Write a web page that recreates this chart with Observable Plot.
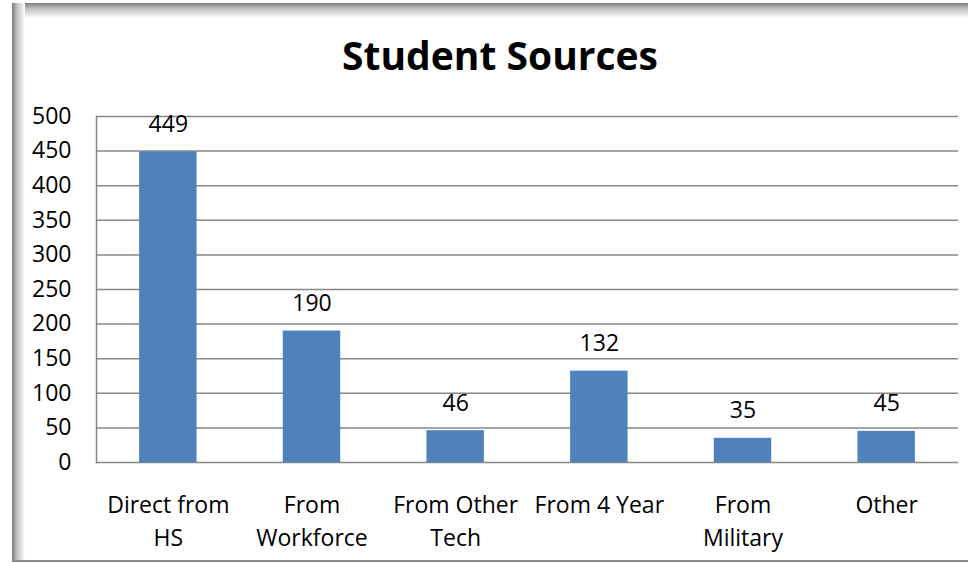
<!DOCTYPE html>
<html>
<head>
<meta charset="utf-8">
<script src="https://cdn.jsdelivr.net/npm/d3@7"></script>
<script src="https://cdn.jsdelivr.net/npm/@observablehq/plot@0.6"></script>
<style>
  html, body { margin: 0; padding: 0; background: #fff; }
  #wrap { position: relative; width: 968px; height: 563px; overflow: hidden; background: #fff; }
  #shadowTop { position: absolute; left: 12px; top: 3px; width: 960px; height: 15px;
    background: linear-gradient(to bottom, #7a7a7a 0%, #bdbdbd 35%, #fff 100%); }
  #shadowLeft { position: absolute; left: 12px; top: 3px; width: 13px; height: 558px;
    background: linear-gradient(to right, #7a7a7a 0%, #bdbdbd 35%, #fff 100%); }
  #bottomLine { position: absolute; left: 12px; top: 560px; width: 960px; height: 2px; background: #8a8a8a; }
  #title { position: absolute; left: 500px; top: 35px; transform: translateX(-50%);
    font-family: "Open Sans", sans-serif; font-weight: 700; font-size: 39px; line-height: 39px;
    color: #000; white-space: nowrap; }
  #chart { position: absolute; left: 0; top: 0; }
</style>
</head>
<body>
<div id="wrap">
  <div id="shadowTop"></div>
  <div id="shadowLeft"></div>
  <div id="bottomLine"></div>
  <div id="chart"></div>
  <div id="title">Student Sources</div>
</div>
<script>
const categories = ["Direct from HS", "From Workforce", "From Other Tech", "From 4 Year", "From Military", "Other"];
const tickLabels = ["Direct from\nHS", "From\nWorkforce", "From Other\nTech", "From 4 Year", "From\nMilitary", "Other"];
const values = [449, 190, 46, 132, 35, 45];
const yTicks = [0, 50, 100, 150, 200, 250, 300, 350, 400, 450, 500];

const data = categories.map((c, i) => ({category: c, value: values[i]}));
const labelOf = new Map(categories.map((c, i) => [c, tickLabels[i]]));

const chart = Plot.plot({
  width: 968,
  height: 563,
  marginLeft: 96,
  marginRight: 10,
  marginTop: 116,
  marginBottom: 101,
  style: {fontFamily: "Open Sans, sans-serif", fontSize: "23px", background: "transparent", color: "#000"},
  x: {domain: categories, paddingInner: 0.6, paddingOuter: 0.3, round: false, label: null},
  y: {domain: [0, 500], label: null},
  marks: [
    Plot.gridY(yTicks, {stroke: "#878787", strokeOpacity: 1, strokeWidth: 1.5}),
    Plot.frame({anchor: "left", stroke: "#878787", strokeWidth: 1.5}),
    Plot.barY(data, {x: "category", y: "value", fill: "#4F81BD"}),
    Plot.text(data, {x: "category", y: "value", text: d => String(d.value), lineAnchor: "bottom", dy: -20, fontSize: 23, fill: "#000"}),
    Plot.axisY({ticks: yTicks, tickSize: 0, tickPadding: 25, fontSize: 23, label: null, fill: "#000"}),
    Plot.axisX({tickSize: 0, tickPadding: 27, fontSize: 23, lineHeight: 1.43, label: null, tickFormat: d => labelOf.get(d), fill: "#000"})
  ]
});
document.getElementById("chart").appendChild(chart);
</script>
</body>
</html>
